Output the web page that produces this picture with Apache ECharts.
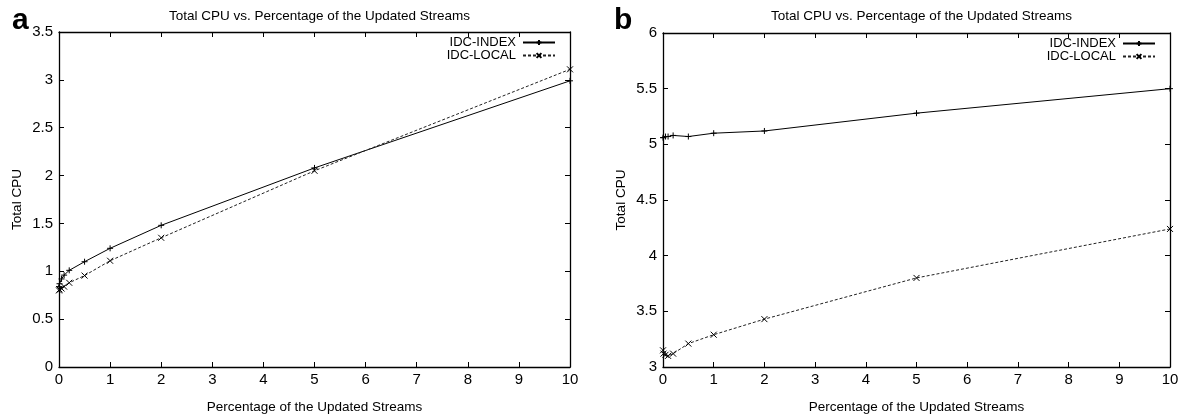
<!DOCTYPE html>
<html>
<head>
<meta charset="utf-8">
<script src="https://cdn.jsdelivr.net/npm/echarts@6/dist/echarts.min.js"></script>
<style>
html,body{margin:0;padding:0;background:#fff;}
#chart{width:1192px;height:419px;}
</style>
</head>
<body>
<div id="chart"></div>
<script>
// Percentage of updated streams (x values shared by every series)
const percentages = [0, 0.01, 0.05, 0.1, 0.2, 0.5, 1, 2, 5, 10];

// Panel a: total CPU
const cpuIndexA = [0.84, 0.87, 0.92, 0.96, 1.01, 1.10, 1.24, 1.48, 2.08, 2.99];
const cpuLocalA = [0.80, 0.81, 0.82, 0.84, 0.88, 0.955, 1.11, 1.35, 2.05, 3.11];

// Panel b: total CPU
const cpuIndexB = [5.06, 5.06, 5.07, 5.07, 5.08, 5.07, 5.10, 5.12, 5.28, 5.50];
const cpuLocalB = [3.15, 3.12, 3.11, 3.10, 3.12, 3.21, 3.29, 3.43, 3.80, 4.24];

const seriesNames = ['IDC-INDEX', 'IDC-LOCAL'];
const chartTitle = 'Total CPU vs. Percentage of the Updated Streams';
const xAxisName = 'Percentage of the Updated Streams';
const yAxisName = 'Total CPU';
const panelLabels = ['a', 'b'];

const FONT = '"Liberation Sans", Arial, Helvetica, sans-serif';
const plusSymbol = 'path://M0,5L10,5M5,0L5,10';
const crossSymbol = 'path://M0,0L10,10M10,0L0,10';

function pairs(ys) { return percentages.map((x, i) => [x, ys[i]]); }

const grids = [
  { left: 59, right: 622, top: 32, bottom: 50 },
  { left: 663, right: 22, top: 33, bottom: 49 }
];
const yRanges = [
  { min: 0, max: 3.5, interval: 0.5 },
  { min: 3, max: 6, interval: 0.5 }
];

const axisLine = { show: true, onZero: false, lineStyle: { color: '#000', width: 1.3 } };
const tickIn = { show: true, inside: true, length: 5, lineStyle: { color: '#000', width: 1 } };
const tickLabel = { color: '#000', fontFamily: FONT, fontSize: 15 };

const xAxes = [], yAxes = [], series = [], titles = [], legends = [];

grids.forEach((g, k) => {
  // bottom x axis with labels
  xAxes.push({
    type: 'value', gridIndex: k, min: 0, max: 10, interval: 1, position: 'bottom',
    axisLine, axisTick: tickIn, splitLine: { show: false },
    axisLabel: Object.assign({ margin: 5 }, tickLabel),
    name: xAxisName, nameLocation: 'middle', nameGap: 33,
    nameTextStyle: { color: '#000', fontFamily: FONT, fontSize: 13.5 }
  });
  // top mirror axis
  xAxes.push({
    type: 'value', gridIndex: k, min: 0, max: 10, interval: 1, position: 'top',
    axisLine, axisTick: tickIn, splitLine: { show: false }, axisLabel: { show: false }
  });
  yAxes.push({
    type: 'value', gridIndex: k, min: yRanges[k].min, max: yRanges[k].max,
    interval: yRanges[k].interval, position: 'left',
    axisLine, axisTick: tickIn, splitLine: { show: false },
    axisLabel: Object.assign({ margin: 6 }, tickLabel),
    name: yAxisName, nameLocation: 'middle', nameGap: 35, nameRotate: 90,
    nameTextStyle: { color: '#000', fontFamily: FONT, fontSize: 13.5 }
  });
  yAxes.push({
    type: 'value', gridIndex: k, min: yRanges[k].min, max: yRanges[k].max,
    interval: yRanges[k].interval, position: 'right',
    axisLine, axisTick: tickIn, splitLine: { show: false }, axisLabel: { show: false }
  });

  const center = g.left + (1192 - g.left - g.right) / 2;
  titles.push({
    text: chartTitle, left: center, top: 4, textAlign: 'center',
    textStyle: { color: '#000', fontFamily: FONT, fontSize: 13.5, fontWeight: 'normal' }
  });
  titles.push({
    text: panelLabels[k], left: k === 0 ? 7 : 609, top: 1,
    textStyle: { color: '#000', fontFamily: FONT, fontSize: 30, fontWeight: 'bold' }
  });

  const idx = k === 0 ? [cpuIndexA, cpuLocalA] : [cpuIndexB, cpuLocalB];
  series.push({
    name: seriesNames[0], id: 'index' + k, type: 'line',
    xAxisIndex: 2 * k, yAxisIndex: 2 * k, data: pairs(idx[0]),
    symbol: plusSymbol, symbolSize: 6, showSymbol: true,
    lineStyle: { color: '#000', width: 1, type: 'solid' },
    itemStyle: { color: 'none', borderColor: '#000', borderWidth: 1 },
    animation: false
  });
  series.push({
    name: seriesNames[1], id: 'local' + k, type: 'line',
    xAxisIndex: 2 * k, yAxisIndex: 2 * k, data: pairs(idx[1]),
    symbol: crossSymbol, symbolSize: 6, showSymbol: true,
    lineStyle: { color: '#222', width: 1, type: [3, 2] },
    itemStyle: { color: 'none', borderColor: '#000', borderWidth: 1 },
    animation: false
  });

  const rightEdge = 1192 - g.right;
  legends.push({
    show: true, orient: 'vertical', align: 'right',
    right: 1192 - (rightEdge - 14), top: g.top + 4,
    itemWidth: 32, itemHeight: 6, itemGap: 0, padding: 0,
    textStyle: { color: '#000', fontFamily: FONT, fontSize: 13, padding: [0, 2, 0, 0] },
    data: seriesNames.map(n => ({ name: n }))
  });
});

const chart = echarts.init(document.getElementById('chart'), null, { renderer: 'canvas' });
chart.setOption({
  backgroundColor: '#fff',
  animation: false,
  title: titles,
  legend: legends,
  grid: grids,
  xAxis: xAxes,
  yAxis: yAxes,
  series
});
</script>
</body>
</html>
